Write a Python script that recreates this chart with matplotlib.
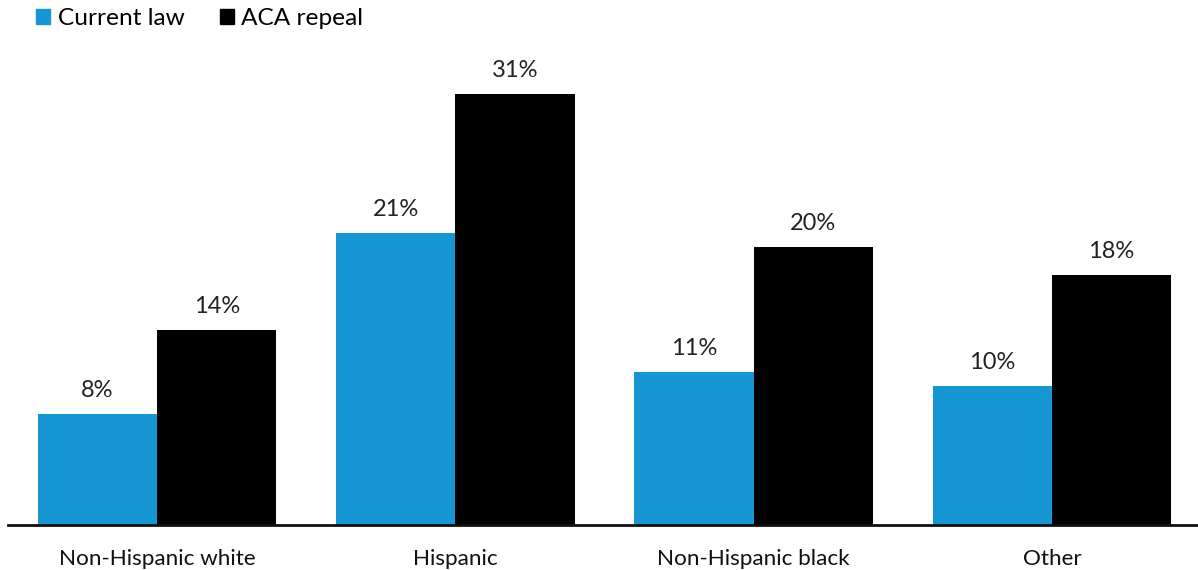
import matplotlib.pyplot as plt
import numpy as np
from matplotlib.patches import Patch

plt.rcParams['font.family'] = ['Lato', 'DejaVu Sans']

groups = ["Non-Hispanic white", "Hispanic", "Non-Hispanic black", "Other"]
current_law = [8, 21, 11, 10]
aca_repeal = [14, 31, 20, 18]
series_names = ["Current law", "ACA repeal"]
colors = ["#1696d2", "#000000"]

fig = plt.figure(figsize=(11.98, 5.70), dpi=100)
ax = fig.add_axes([8/1198, 45/570, 1190/1198, 485/570])

x = np.arange(len(groups))
w = 0.4
b1 = ax.bar(x - w/2, current_law, w, color=colors[0])
b2 = ax.bar(x + w/2, aca_repeal, w, color=colors[1])

for bars, vals in [(b1, current_law), (b2, aca_repeal)]:
    for b, v in zip(bars, vals):
        ax.text(b.get_x() + b.get_width()/2, v + 0.95, f"{v}%",
                ha='center', va='bottom', fontsize=17, color='#222222')

ax.set_xlim(-0.5, 3.49)
ax.set_ylim(0, 34.9)
ax.set_xticks(x)
ax.set_xticklabels(groups, fontsize=16.2, color='#111111')
ax.tick_params(axis='x', length=0, pad=17)
ax.set_yticks([])
for s in ['top', 'right', 'left']:
    ax.spines[s].set_visible(False)
ax.spines['bottom'].set_linewidth(2)
ax.spines['bottom'].set_color('#111111')

handles = [Patch(color=c) for c in colors]
fig.legend(handles, series_names, loc='upper left', bbox_to_anchor=(0.018, 1.012),
           ncol=2, frameon=False, fontsize=17.6, handlelength=0.58, handleheight=0.58,
           handletextpad=0.3, columnspacing=1.45, borderaxespad=0.2)

fig.savefig("out.png", dpi=100)
